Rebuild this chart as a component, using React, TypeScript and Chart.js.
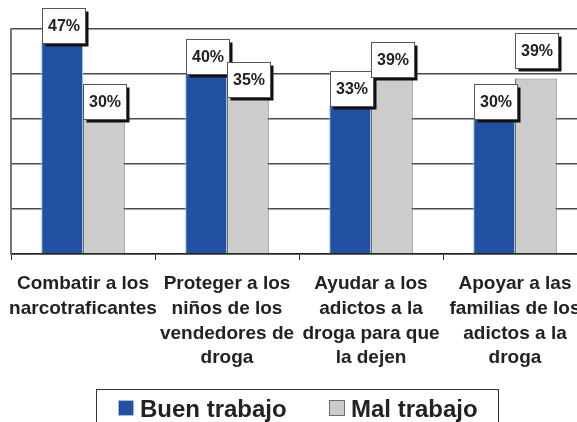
import React, { useEffect, useRef } from 'react';
import { Chart, registerables } from 'chart.js';

Chart.register(...registerables);

const categories: string[][] = [
  ['Combatir a los', 'narcotraficantes'],
  ['Proteger a los', 'niños de los', 'vendedores de', 'droga'],
  ['Ayudar a los', 'adictos a la', 'droga para que', 'la dejen'],
  ['Apoyar a las', 'familias de los', 'adictos a la', 'droga'],
];
const buenTrabajo = [47, 40, 33, 30];
const malTrabajo = [30, 35, 39, 39];
const seriesNames = ['Buen trabajo', 'Mal trabajo'];
const yMin = 0;
const yMax = 50;
const yStep = 10;

const FONT = '"Liberation Sans", Arial, Helvetica, sans-serif';
const BLUE = '#2351a1';
const BLUE_EDGE = '#9cc0dc';
const GRAY = '#cccccc';
const GRAY_EDGE = '#6e6e6e';

const boxLabelPlugin = {
  id: 'boxLabels',
  afterDatasetsDraw(chart: any) {
    const ctx = chart.ctx as CanvasRenderingContext2D;
    const lifts: number[][] = [[0, 0, 0, 0], [0, 0, 2, 11]];
    ctx.save();
    chart.data.datasets.forEach((ds: any, di: number) => {
      const meta = chart.getDatasetMeta(di);
      meta.data.forEach((bar: any, i: number) => {
        const p = bar.getProps(['x', 'y'], true);
        const w = 43;
        const h = 35;
        const x0 = Math.round(p.x - w / 2 + 1) + 0.5;
        const y0 = Math.round(p.y - h - lifts[di][i]) + 0.5;
        ctx.fillStyle = '#111';
        ctx.fillRect(x0 + 3, y0 + 3, w, h);
        ctx.fillStyle = '#ffffff';
        ctx.fillRect(x0, y0, w, h);
        ctx.strokeStyle = '#555';
        ctx.lineWidth = 1;
        ctx.strokeRect(x0, y0, w, h);
        ctx.fillStyle = '#222';
        ctx.font = `bold 16px ${FONT}`;
        ctx.textAlign = 'center';
        ctx.textBaseline = 'middle';
        ctx.fillText(`${ds.data[i]}%`, x0 + w / 2, y0 + h / 2 + 1);
      });
    });
    ctx.restore();
  },
};

const legendPlugin = {
  id: 'boxedLegend',
  afterDraw(chart: any) {
    const ctx = chart.ctx as CanvasRenderingContext2D;
    ctx.save();
    ctx.strokeStyle = '#333';
    ctx.lineWidth = 1;
    ctx.strokeRect(96.5, 389.5, 402, 40);
    ctx.font = `bold 24px ${FONT}`;
    ctx.textAlign = 'left';
    ctx.textBaseline = 'alphabetic';
    const items = [
      { x: 118, text: chart.data.datasets[0].label, fill: BLUE, edge: BLUE_EDGE },
      { x: 329, text: chart.data.datasets[1].label, fill: GRAY, edge: GRAY_EDGE },
    ];
    items.forEach((it) => {
      ctx.fillStyle = it.fill;
      ctx.fillRect(it.x, 400, 16, 16);
      ctx.strokeStyle = it.edge;
      ctx.strokeRect(it.x + 0.5, 400.5, 15, 15);
      ctx.fillStyle = '#222';
      ctx.fillText(it.text, it.x + 22, 416.5);
    });
    ctx.restore();
  },
};

export default function App() {
  const ref = useRef<HTMLCanvasElement | null>(null);
  useEffect(() => {
    if (!ref.current) return;
    const chart = new Chart(ref.current, {
      type: 'bar',
      data: {
        labels: categories,
        datasets: [
          {
            label: seriesNames[0],
            data: buenTrabajo,
            backgroundColor: BLUE,
            borderColor: BLUE_EDGE,
            borderWidth: 1,
            categoryPercentage: 0.58,
            barPercentage: 1,
          },
          {
            label: seriesNames[1],
            data: malTrabajo,
            backgroundColor: GRAY,
            borderColor: GRAY_EDGE,
            borderWidth: 1,
            categoryPercentage: 0.58,
            barPercentage: 1,
          },
        ],
      },
      options: {
        responsive: false,
        animation: false,
        devicePixelRatio: 1,
        layout: { padding: { top: 29, right: 13, left: 0, bottom: 0 } },
        plugins: { legend: { display: false }, tooltip: { enabled: false } },
        scales: {
          x: {
            offset: true,
            afterFit: (s: any) => {
              s.height = 168;
              s.paddingLeft = 0;
              s.paddingRight = 0;
            },
            grid: {
              offset: true,
              drawOnChartArea: false,
              drawTicks: true,
              tickLength: 6,
              color: '#333',
              lineWidth: 1,
            },
            border: { display: true, color: '#222', width: 1.5 },
            ticks: {
              autoSkip: false,
              maxRotation: 0,
              minRotation: 0,
              padding: 12,
              color: '#222',
              font: { family: FONT, size: 19, weight: 'bold', lineHeight: 1.29 },
            },
          },
          y: {
            min: yMin,
            max: yMax,
            afterFit: (s: any) => {
              s.width = 11;
            },
            ticks: { display: false, stepSize: yStep },
            grid: { drawTicks: false, color: '#4a4a4a', lineWidth: 1.5 },
            border: { display: true, color: '#777', width: 2 },
          },
        },
      },
      plugins: [boxLabelPlugin, legendPlugin],
    } as any);
    return () => chart.destroy();
  }, []);
  return (
    <div
      style={{
        position: 'fixed',
        left: 0,
        top: 0,
        width: 577,
        height: 422,
        overflow: 'hidden',
        background: '#fff',
      }}
    >
      <canvas ref={ref} width={600} height={422} style={{ display: 'block' }} />
    </div>
  );
}
